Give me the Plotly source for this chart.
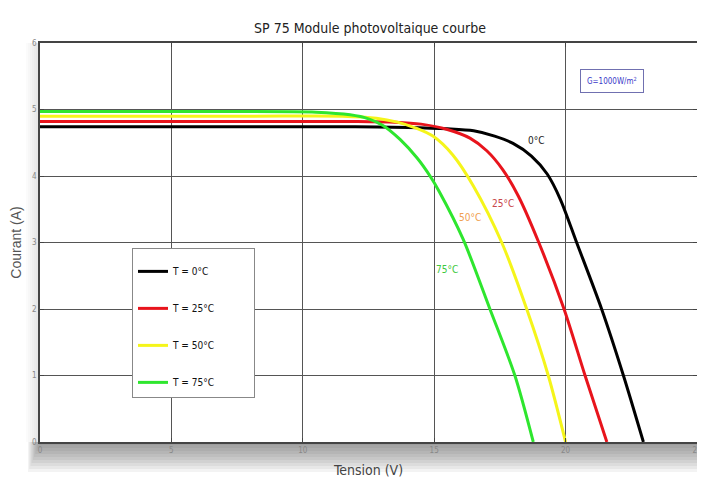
import plotly.graph_objects as go

# ---- data ----
v_0 = [0, 8, 12, 14, 15.5, 16.5, 17.3, 18.0, 18.7, 19.3, 19.8, 20.42, 21.37, 22.2, 22.96]
i_0 = [4.74, 4.74, 4.74, 4.73, 4.71, 4.68, 4.6, 4.49, 4.3, 4.03, 3.65, 3.0, 2.0, 1.0, 0.0]

v_25 = [0, 8, 12, 13.5, 14.5, 15.5, 16.36, 17.0, 17.6, 18.2, 18.98, 19.94, 20.74, 21.57]
i_25 = [4.82, 4.82, 4.82, 4.81, 4.78, 4.7, 4.57, 4.38, 4.1, 3.7, 3.0, 2.0, 1.0, 0.0]

v_50 = [0, 8, 11.5, 12.8, 13.6, 14.3, 14.95, 15.7, 16.49, 17.57, 18.52, 19.34, 20.0]
i_50 = [4.9, 4.9, 4.9, 4.87, 4.81, 4.72, 4.6, 4.32, 3.85, 3.0, 2.0, 1.0, 0.0]

v_75 = [0, 7, 10.5, 11.8, 12.5, 13.05, 13.7, 14.35, 14.84, 15.2, 16.1, 17.12, 18.07, 18.77]
i_75 = [4.97, 4.97, 4.96, 4.92, 4.86, 4.76, 4.55, 4.27, 4.0, 3.76, 3.05, 2.0, 1.0, 0.0]

series_names = ["T = 0°C", "T = 25°C", "T = 50°C", "T = 75°C"]
series_colors = ["#000000", "#e8141c", "#f5f51a", "#2ee62e"]
curve_labels = ["0°C", "25°C", "50°C", "75°C"]
label_pos_v = [18.9, 17.6, 16.36, 15.49]
label_pos_i = [4.54, 3.59, 3.37, 2.59]
label_colors = ["#222222", "#c8464a", "#f0a050", "#3cc83c"]

x_ticks = [0, 5, 10, 15, 20, 25]
y_ticks = [0, 1, 2, 3, 4, 5, 6]

NARROW = "Liberation Sans Narrow, DejaVu Sans Condensed, Arial Narrow, sans-serif"

fig = go.Figure()
for vv, ii, name, col in zip([v_0, v_25, v_50, v_75], [i_0, i_25, i_50, i_75],
                             series_names, series_colors):
    fig.add_trace(go.Scatter(x=vv, y=ii, mode="lines", name=name, legendgroup=name,
                             line=dict(color=col, width=3, shape="spline", smoothing=0.8)))

for t, xv, yv, c in zip(curve_labels, label_pos_v, label_pos_i, label_colors):
    fig.add_annotation(x=xv, y=yv, text=t, showarrow=False,
                       font=dict(family=NARROW, size=10, color=c))

fig.add_annotation(xref="paper", yref="paper", x=0.871, y=0.905,
                   xanchor="center", yanchor="middle",
                   text="G=1000W/m<sup>2</sup>",
                   showarrow=False, font=dict(family=NARROW, size=8, color="#3838c8"),
                   bordercolor="#7070b0", borderwidth=1, borderpad=6, bgcolor="white")

# soft drop shadow outside the plot area (pixel offsets converted to paper units)
W, H = 657.0, 399.0
shapes = []
for k in range(1, 11):
    shapes.append(dict(type="rect", xref="paper", yref="paper", layer="below",
                       x0=-(k * 1.2) / W, x1=1 + 1 / W,
                       y0=-(k * 3.0) / H, y1=0,
                       fillcolor="rgba(40,40,40,0.055)", line=dict(width=0)))
for k in range(1, 8):
    shapes.append(dict(type="rect", xref="paper", yref="paper", layer="below",
                       x0=-(k * 2.0) / W, x1=0,
                       y0=0, y1=1,
                       fillcolor="rgba(40,40,40,0.02)", line=dict(width=0)))
fig.update_layout(shapes=shapes)

axis_common = dict(showgrid=True, gridcolor="#555555", gridwidth=1.3,
                   showline=True, linecolor="#444444", linewidth=1.5, mirror="ticks",
                   ticks="inside", ticklen=4, tickcolor="#444444", zeroline=False,
                   automargin=False,
                   tickfont=dict(family=NARROW, size=8, color="#888888"))

fig.update_xaxes(range=[0, 25], tickvals=x_ticks, **axis_common,
                 title=dict(text="Tension (V)", standoff=11,
                            font=dict(family=NARROW, size=14, color="#444444")))
fig.update_yaxes(range=[0, 6], tickvals=y_ticks, **axis_common,
                 title=dict(text="Courant (A)", standoff=8,
                            font=dict(family="Liberation Sans, Arial, sans-serif", size=14, color="#555555")))

# the page body adds an 8 px offset, so margins are reduced by 8 px on top/left
fig.update_layout(
    width=705, height=489,
    margin=dict(l=32, r=16, t=35, b=55),
    paper_bgcolor="white", plot_bgcolor="white",
    title=dict(text="SP 75 Module photovoltaique courbe", x=362 / 705, xanchor="center",
               y=1 - 20 / 489, yanchor="middle", yref="container",
               font=dict(family=NARROW, size=14, color="#222222")),
    legend=dict(x=0.14, y=0.486, xanchor="left", yanchor="top",
                bgcolor="white", bordercolor="#888888", borderwidth=1,
                font=dict(family=NARROW, size=10, color="#111111"),
                title=dict(text="\u00a0" * 68, font=dict(size=6)),
                tracegroupgap=18, itemwidth=30),
    showlegend=True,
)

fig.write_html("out.html")
